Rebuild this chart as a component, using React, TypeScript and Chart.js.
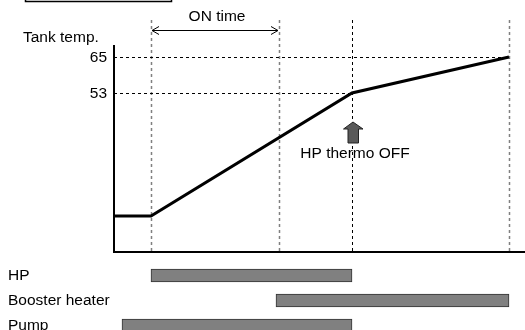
import React, { useEffect, useRef } from "react";
import { Chart, registerables } from "chart.js";

Chart.register(...registerables);

// ---- data ----
const tempTimes = [0, 3.7, 23.8, 39.5];
const tempValues = [12, 12, 53, 65];
const yTickValues = [53, 65];
const eventTimes = [3.7, 16.5, 23.8, 39.5]; // HP on, ON time end, HP thermo OFF, end
const barLabels = ["HP", "Booster heater", "Pump"];
const barStarts = [3.7, 16.2, 0.8];
const barEnds = [23.8, 39.5, 23.8];
const xMin = 0;
const xMax = 41.1;
const yMin = 0;
const yMax = 69;

const FAMILY = "'Liberation Sans', Arial, sans-serif";
const FSIZE = 15.5;
const FONT = `${FSIZE}px ${FAMILY}`;

const overlayPlugin = {
  id: "overlay",
  beforeDatasetsDraw(chart: any) {
    const { ctx, chartArea, scales } = chart;
    const xs = scales.x;
    const ys = scales.y;
    ctx.save();
    // vertical dashed lines
    eventTimes.forEach((t, i) => {
      const px = Math.round(xs.getPixelForValue(t)) + 0.5;
      ctx.beginPath();
      ctx.setLineDash([3, 3]);
      if (i === 2) {
        ctx.strokeStyle = "#000";
        ctx.lineWidth = 1;
      } else {
        ctx.strokeStyle = "#808080";
        ctx.lineWidth = 1.5;
      }
      ctx.moveTo(px, 20);
      ctx.lineTo(px, chartArea.bottom);
      ctx.stroke();
    });
    // horizontal dashed lines
    ctx.strokeStyle = "#000";
    ctx.lineWidth = 1;
    ctx.setLineDash([3, 3]);
    const y65 = Math.round(ys.getPixelForValue(65)) + 0.5;
    const y53 = Math.round(ys.getPixelForValue(53)) + 0.5;
    ctx.beginPath();
    ctx.moveTo(chartArea.left, y65);
    ctx.lineTo(xs.getPixelForValue(eventTimes[3]), y65);
    ctx.moveTo(chartArea.left, y53);
    ctx.lineTo(xs.getPixelForValue(eventTimes[2]), y53);
    ctx.stroke();
    ctx.setLineDash([]);
    // axes
    ctx.strokeStyle = "#000";
    ctx.lineWidth = 2;
    ctx.beginPath();
    ctx.moveTo(chartArea.left, chartArea.top);
    ctx.lineTo(chartArea.left, chartArea.bottom);
    ctx.lineTo(chartArea.right, chartArea.bottom);
    ctx.stroke();
    ctx.restore();
  },
  afterDraw(chart: any) {
    const { ctx, chartArea, scales } = chart;
    const xs = scales.x;
    const ys = scales.y;
    ctx.save();
    ctx.fillStyle = "#000";
    ctx.font = FONT;
    // y tick labels
    ctx.textAlign = "right";
    ctx.textBaseline = "middle";
    yTickValues.forEach((v) => {
      ctx.fillText(String(v), chartArea.left - 7, ys.getPixelForValue(v) + 1);
    });
    // axis title
    ctx.textAlign = "left";
    ctx.textBaseline = "alphabetic";
    ctx.fillText("Tank temp.", 23, 42);
    // ON time
    const xa = xs.getPixelForValue(eventTimes[0]);
    const xb = xs.getPixelForValue(eventTimes[1]);
    ctx.textAlign = "center";
    ctx.fillText("ON time", (xa + xb) / 2 + 2, 21);
    ctx.strokeStyle = "#000";
    ctx.lineWidth = 1;
    ctx.beginPath();
    const ay = 30.5;
    ctx.moveTo(xa + 1, ay);
    ctx.lineTo(xb - 1, ay);
    ctx.moveTo(xa + 8, ay - 4);
    ctx.lineTo(xa + 1, ay);
    ctx.lineTo(xa + 8, ay + 4);
    ctx.moveTo(xb - 8, ay - 4);
    ctx.lineTo(xb - 1, ay);
    ctx.lineTo(xb - 8, ay + 4);
    ctx.stroke();
    // HP thermo OFF arrow
    const xo = xs.getPixelForValue(eventTimes[2]) + 1;
    const yo = ys.getPixelForValue(53);
    const top = yo + 29;
    ctx.beginPath();
    ctx.moveTo(xo, top);
    ctx.lineTo(xo + 10, top + 7);
    ctx.lineTo(xo + 5.5, top + 7);
    ctx.lineTo(xo + 5.5, top + 21);
    ctx.lineTo(xo - 5, top + 21);
    ctx.lineTo(xo - 5, top + 7);
    ctx.lineTo(xo - 9.5, top + 7);
    ctx.closePath();
    ctx.fillStyle = "#595959";
    ctx.fill();
    ctx.strokeStyle = "#222";
    ctx.lineWidth = 1;
    ctx.stroke();
    ctx.fillStyle = "#000";
    ctx.textAlign = "center";
    ctx.fillText("HP thermo OFF", xo + 2, top + 36);
    // cut-off box at top-left
    ctx.lineWidth = 1.5;
    ctx.strokeStyle = "#000";
    ctx.strokeRect(25.5, -10, 146, 11.5);
    ctx.restore();
  },
};

export default function App() {
  const lineRef = useRef<HTMLCanvasElement | null>(null);
  const barRef = useRef<HTMLCanvasElement | null>(null);

  useEffect(() => {
    const lineChart = new Chart(lineRef.current as HTMLCanvasElement, {
      type: "line",
      data: {
        datasets: [
          {
            data: tempTimes.map((t, i) => ({ x: t, y: tempValues[i] })),
            borderColor: "#000",
            borderWidth: 3,
            pointRadius: 0,
            tension: 0,
            fill: false,
          },
        ],
      },
      options: {
        responsive: false,
        animation: false,
        layout: { padding: { left: 114, right: 0, top: 45, bottom: 78 } },
        plugins: { legend: { display: false }, tooltip: { enabled: false } },
        scales: {
          x: { type: "linear", min: xMin, max: xMax, display: false },
          y: { type: "linear", min: yMin, max: yMax, display: false },
        },
      },
      plugins: [overlayPlugin],
    } as any);

    const barChart = new Chart(barRef.current as HTMLCanvasElement, {
      type: "bar",
      data: {
        labels: barLabels,
        datasets: [
          {
            data: barStarts.map((s, i) => [s, barEnds[i]]),
            backgroundColor: "#808080",
            borderColor: "#333",
            borderWidth: 1,
            borderSkipped: false,
            barThickness: 13,
          },
        ],
      },
      options: {
        indexAxis: "y",
        responsive: false,
        animation: false,
        layout: { padding: { left: 8, right: 0, top: 0, bottom: 0 } },
        plugins: { legend: { display: false }, tooltip: { enabled: false } },
        scales: {
          x: { type: "linear", min: xMin, max: xMax, display: false },
          y: {
            type: "category",
            offset: true,
            grid: { display: false },
            border: { display: false },
            ticks: {
              color: "#000",
              crossAlign: "far",
              padding: 0,
              font: { family: FAMILY, size: FSIZE },
            },
            afterFit: (scale: any) => {
              scale.width = 106;
              scale.paddingTop = 0;
              scale.paddingBottom = 0;
            },
          },
        },
      },
    } as any);

    return () => {
      lineChart.destroy();
      barChart.destroy();
    };
  }, []);

  return (
    <div
      style={{
        position: "fixed",
        left: 0,
        top: 0,
        width: 525,
        height: 330,
        overflow: "hidden",
        background: "#fff",
      }}
    >
      <canvas
        ref={lineRef}
        width={525}
        height={330}
        style={{ position: "absolute", left: 0, top: 0, width: 525, height: 330 }}
      />
      <canvas
        ref={barRef}
        width={525}
        height={75}
        style={{ position: "absolute", left: 0, top: 263, width: 525, height: 75 }}
      />
    </div>
  );
}
